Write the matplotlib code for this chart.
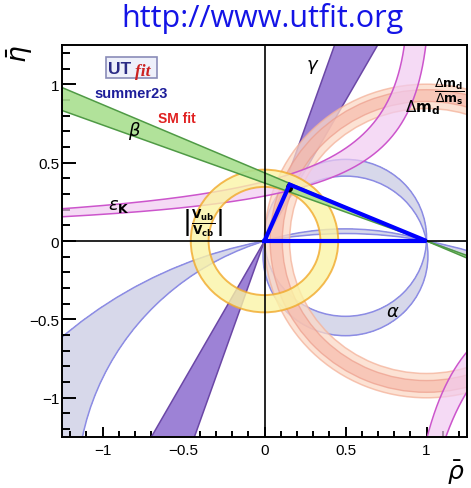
import numpy as np
import matplotlib
matplotlib.use('Agg')
import matplotlib.pyplot as plt
from matplotlib.patches import Wedge, Circle, Rectangle, Ellipse
from matplotlib.ticker import MultipleLocator

plt.rcParams['mathtext.fontset'] = 'dejavusans'
plt.rcParams['font.family'] = ['Liberation Sans', 'DejaVu Sans']

# ---------------- data ----------------
rho_lim = [-1.25, 1.25]
eta_lim = [-1.25, 1.25]
x_ticks = [-1, -0.5, 0, 0.5, 1]
x_tick_labels = ['\u22121', '\u22120.5', '0', '0.5', '1']
y_ticks = [-1, -0.5, 0, 0.5, 1]
y_tick_labels = ['\u22121', '\u22120.5', '0', '0.5', '1']

apex = [0.155, 0.36]              # fitted (rho, eta)
fit_size = [0.035, 0.05]          # small black fit region
beta_tan = [0.370, 0.435]         # tan(beta) of band edges
gamma_deg = [60.8, 70.9]          # gamma band edges
vub_r = [0.345, 0.455]            # |Vub/Vcb| ring radii
dmd_r = [0.845, 1.0]              # Delta m_d ring radii (centre (1,0))
dmds_r = [0.89, 0.965]            # Delta m_d / Delta m_s ring radii
alpha_main_yc = [-0.095, 0.02]    # circle centres (0.5, yc) through (0,0),(1,0)
alpha_alt_yc = [-2.6, -1.58]
# eps_K edges, upper branch: rho = r0 + s*eta - k/eta  (eta > 0)
epsK_up = [(1.622, -0.235, 0.581), (1.526, -0.152, 0.425)]
# eps_K edges, lower branch: rho = r0 - k/eta  (eta < 0)
epsK_low = [(0.684, 0.40), (0.684, 0.544)]

# colours
c_alpha_f, c_alpha_e = '#d7d8ea', '#8c8ce4'
c_gamma_f, c_gamma_e = '#9d82d6', '#6b47a6'
c_beta_f, c_beta_e = '#a9df8f', '#4f9a45'
c_vub_f, c_vub_e = '#fbf4a6', '#f1a92a'
c_dmd_f, c_dmd_e = '#fcd9c6', '#f4b29a'
c_dms_f, c_dms_e = '#f7b9a9', '#ec9a88'
c_eps_f, c_eps_e = '#f1cbf1', '#cc55cc'

fig = plt.figure(figsize=(4.71, 4.89), dpi=100)
ax = fig.add_axes([62/471, 1-438/489, 405/471, 392/489])
ax.set_xlim(rho_lim)
ax.set_ylim(eta_lim)

# ---------------- alpha (pencil of circles through (0,0) and (1,0)) ----
N = 1400
xr = np.linspace(-1.3, 1.3, N)
yr = np.linspace(-1.3, 1.3, N + 1)[:-1] + 1.3 / N
X, Y = np.meshgrid(xr, yr)
G = (X**2 - X + Y**2) / (2 * Y)
for yc in (alpha_main_yc, alpha_alt_yc):
    ax.contourf(X, Y, G, levels=[yc[0], yc[1]], colors=[c_alpha_f], zorder=1)
    for c in yc:
        ax.add_patch(Circle((0.5, c), np.sqrt(0.25 + c**2), fill=False,
                            ec=c_alpha_e, lw=1.1, zorder=1.5))

# ---------------- gamma ----------------
L = 6.0
g = np.radians(gamma_deg)
for sgn in (1, -1):
    pts = [(0, 0), (sgn*L*np.cos(g[0]), sgn*L*np.sin(g[0])),
           (sgn*L*np.cos(g[1]), sgn*L*np.sin(g[1]))]
    ax.fill(*zip(*pts), color=c_gamma_f, zorder=2, lw=0)
for a in g:
    ax.plot([-L*np.cos(a), L*np.cos(a)], [-L*np.sin(a), L*np.sin(a)],
            color=c_gamma_e, lw=1.1, zorder=2.1)

# ---------------- Delta m_d rings ----------------
ax.add_patch(Wedge((1, 0), dmd_r[1], 0, 360, width=dmd_r[1]-dmd_r[0],
                   fc=c_dmd_f, ec=c_dmd_e, lw=1.1, alpha=0.75, zorder=3))
ax.add_patch(Wedge((1, 0), dmds_r[1], 0, 360, width=dmds_r[1]-dmds_r[0],
                   fc=c_dms_f, ec=c_dms_e, lw=1.0, alpha=0.65, zorder=3.1))

# ---------------- eps_K ----------------
eu = np.linspace(0.03, 1.4, 600)
r_up = [r0 + s*eu - k/eu for (r0, s, k) in epsK_up]
ax.fill_betweenx(eu, r_up[0], r_up[1], color=c_eps_f, alpha=0.7, lw=0, zorder=4)
for r in r_up:
    ax.plot(r, eu, color=c_eps_e, lw=1.1, zorder=4.1)
el = np.linspace(-1.4, -0.3, 400)
r_lo = [r0 - k/el for (r0, k) in epsK_low]
ax.fill_betweenx(el, r_lo[0], r_lo[1], color=c_eps_f, alpha=0.7, lw=0, zorder=4)
for r in r_lo:
    ax.plot(r, el, color=c_eps_e, lw=1.1, zorder=4.1)

# ---------------- |Vub/Vcb| ----------------
ax.add_patch(Wedge((0, 0), vub_r[1], 0, 360, width=vub_r[1]-vub_r[0],
                   fc=c_vub_f, ec=c_vub_e, lw=1.4, alpha=0.8, zorder=5))

# ---------------- beta ----------------
for sgn in (1, -1):
    pts = [(1, 0), (1 - sgn*L, sgn*L*beta_tan[0]), (1 - sgn*L, sgn*L*beta_tan[1])]
    ax.fill(*zip(*pts), color=c_beta_f, alpha=0.9, zorder=6, lw=0)
for t in beta_tan:
    ax.plot([1 - L, 1 + L], [L*t, -L*t], color=c_beta_e, lw=1.1, zorder=6.1)

# ---------------- axes lines, fit, triangle ----------------
ax.axhline(0, color='black', lw=1.2, zorder=7)
ax.axvline(0, color='black', lw=1.2, zorder=7)
ax.add_patch(Ellipse((apex[0], apex[1] - 0.02), fit_size[0], fit_size[1],
                     color='black', zorder=7.5))
ax.plot([0, apex[0], 1, 0], [0, apex[1], 0, 0], color='#0000ff', lw=3.0,
        solid_joinstyle='miter', zorder=8, clip_on=False)

# ---------------- labels in plot ----------------
ax.text(-0.80, 0.71, r'$\beta$', fontsize=13, ha='center', va='center', zorder=10)
ax.text(0.295, 1.115, r'$\gamma$', fontsize=13, ha='center', va='center', zorder=10)
ax.text(0.79, -0.45, r'$\alpha$', fontsize=13, ha='center', va='center', zorder=10)
ax.text(-0.90, 0.225, r'$\epsilon_{\mathbf{K}}$', fontsize=13, ha='center', va='center', zorder=10)
ax.text(-0.38, 0.12, r'$\left|\frac{\mathbf{V_{ub}}}{\mathbf{V_{cb}}}\right|$', fontsize=12.5,
        ha='center', va='center', zorder=10)
ax.text(1.14, 0.955, r'$\dfrac{\Delta \mathbf{m_d}}{\Delta \mathbf{m_s}}$', fontsize=9,
        ha='center', va='center', zorder=10)
ax.text(0.975, 0.855, r'$\Delta \mathbf{m_d}$', fontsize=11, ha='center', va='center', zorder=10)

# logo
ax.add_patch(Rectangle((0.109, 0.916), 0.126, 0.053, transform=ax.transAxes,
                       fc='#eef0fa', ec='#8a8cb8', lw=1.2, zorder=10))
ax.text(0.113, 0.941, 'UT', transform=ax.transAxes, fontsize=12.5, fontweight='bold',
        color='#2b2b85', ha='left', va='center', zorder=11)
ax.text(0.180, 0.934, 'fit', transform=ax.transAxes, fontsize=12.5, fontstyle='italic',
        fontweight='bold', color='#cc2222', ha='left', va='center', zorder=11,
        family=['Liberation Serif'])
ax.text(0.081, 0.878, 'summer23', transform=ax.transAxes, fontsize=10.5, fontweight='bold',
        color='#1d1d9a', ha='left', va='center', zorder=11)
ax.text(0.237, 0.8135, 'SM fit', transform=ax.transAxes, fontsize=10, fontweight='bold',
        color='#e02020', ha='left', va='center', zorder=11)

# ---------------- axes styling ----------------
ax.set_xticks(x_ticks)
ax.set_xticklabels(x_tick_labels)
ax.set_yticks(y_ticks)
ax.set_yticklabels(y_tick_labels)
ax.xaxis.set_minor_locator(MultipleLocator(0.1))
ax.yaxis.set_minor_locator(MultipleLocator(0.1))
ax.tick_params(axis='x', which='major', direction='in', length=7, width=1.4,
               labelsize=11, pad=4)
ax.tick_params(axis='x', which='minor', direction='in', length=4.3, width=1.4)
ax.tick_params(axis='y', which='major', direction='in', length=10, width=1.4,
               labelsize=11, pad=2)
ax.tick_params(axis='y', which='minor', direction='in', length=5.5, width=1.4)
for s in ax.spines.values():
    s.set_linewidth(1.4)
    s.set_zorder(12)

ax.text(0.995, -0.088, r'$\bar{\rho}$', transform=ax.transAxes, fontsize=18,
        ha='right', va='center')
ax.text(-0.105, 0.98, r'$\bar{\eta}$', transform=ax.transAxes, fontsize=19,
        ha='center', va='center', rotation=90)

fig.text(262/471, 1-19/489, 'http://www.utfit.org', fontsize=22, color='#1414e6',
         ha='center', va='center', family=['Open Sans', 'DejaVu Sans'])

fig.savefig('out.png', dpi=100)
